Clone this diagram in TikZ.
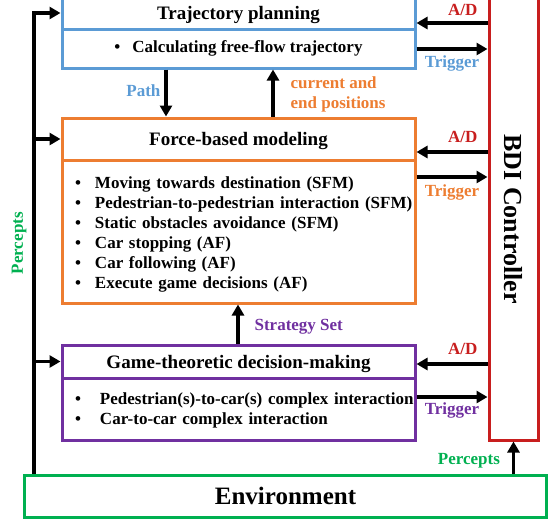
\documentclass[tikz,border=0pt]{standalone}
\usepackage{fontspec}
\setmainfont{Liberation Serif}
\usepackage{tikz}
\usetikzlibrary{positioning, arrows.meta}
\definecolor{tpblue}{RGB}{91,155,213}
\definecolor{fmorange}{RGB}{237,125,49}
\definecolor{gtpurple}{RGB}{112,48,160}
\definecolor{bdired}{RGB}{200,30,30}
\definecolor{envgreen}{RGB}{0,176,80}
\tikzstyle{arrow} = [line width=3.2pt,-{Triangle[length=11pt,width=12pt]}]

\begin{document}
\begin{tikzpicture}[
    x=1pt, y=-1pt,
    font=\fontsize{17}{20}\selectfont\bfseries,
    box/.style={
        draw,
        line width=3pt,
        minimum width=353pt,
        inner sep=0pt
    },
    title/.style={box, text depth=0pt, font=\fontsize{19}{22}\selectfont\bfseries},
    body/.style={box, align=left, text width=327pt},
    lbl/.style={font=\fontsize{17}{20}\selectfont\bfseries, inner sep=2pt}
]
\useasboundingbox (0,0) rectangle (548,520);

% ======================
% Trajectory planning
% ======================
\node[title, draw=tpblue, minimum height=32pt] (traj_title) at (238.5,13) {Trajectory planning};
\node[box, draw=tpblue, minimum height=39pt] (traj_body) at (238.5,48.5)
    {\makebox[18pt][l]{\textbullet}Calculating free-flow trajectory};

% ======================
% Force-based modeling
% ======================
\node[title, draw=fmorange, minimum height=42pt] (force_title) at (238.5,139) {Force-based modeling};
\node[body, draw=fmorange, minimum height=143pt] (force_body) at (238.5,231.5)
    {\begin{tabular}{@{}p{20pt}@{}l@{}}
     \rule{0pt}{19pt}\textbullet & Moving towards destination (SFM)\\
     \textbullet & Pedestrian-to-pedestrian interaction (SFM)\\
     \textbullet & Static obstacles avoidance (SFM)\\
     \textbullet & Car stopping (AF)\\
     \textbullet & Car following (AF)\\
     \textbullet & Execute game decisions (AF)
     \end{tabular}};

% ======================
% Game-theoretic decision-making
% ======================
\node[title, draw=gtpurple, minimum height=33pt] (game_title) at (238.5,361.5) {Game-theoretic decision-making};
\node[body, draw=gtpurple, minimum height=62pt] (game_body) at (238.5,409)
    {\begin{tabular}{@{}p{25pt}@{}l@{}}
     \rule{0pt}{17pt}\textbullet & Pedestrian(s)-to-car(s) complex interaction\\
     \textbullet & Car-to-car complex interaction
     \end{tabular}};

% ======================
% Environment and BDI controller
% ======================
\node[draw=envgreen, line width=3pt, minimum width=522pt, minimum height=42pt,
      font=\fontsize{25}{30}\selectfont\bfseries] (env) at (285.5,496) {Environment};
\node[draw=bdired, line width=3pt, minimum width=49pt, minimum height=442pt,
      label={[rotate=-90, font=\fontsize{26}{30}\selectfont\bfseries]center:BDI Controller}] (bdi) at (513.5,219) {};

% ======================
% Connections between modules
% ======================
\draw[arrow] (traj_body.south -| 166,0) -- node[lbl, left=2pt, pos=0.45, text=tpblue] {Path} (force_title.north -| 166,0);
\draw[arrow] (force_title.north -| 273,0) -- node[lbl, right=14pt, pos=0.48, align=left, text=fmorange] {current and\\end positions} (traj_body.south -| 273,0);
\draw[arrow] (game_title.north -| 238,0) -- node[lbl, right=13pt, pos=0.43, text=gtpurple] {Strategy Set} (force_body.south -| 238,0);

% A/D and Trigger
\draw[arrow] (bdi.west |- 0,23) -- node[lbl, above=4pt, pos=0.35, text=bdired] {A/D} (traj_title.east |- 0,23);
\draw[arrow] (traj_body.east |- 0,49) -- node[lbl, below=3pt, text=tpblue] {Trigger} (bdi.west |- 0,49);
\draw[arrow] (bdi.west |- 0,152) -- node[lbl, above=6pt, pos=0.35, text=bdired] {A/D} (force_title.east |- 0,152);
\draw[arrow] (force_body.east |- 0,177) -- node[lbl, below=4pt, text=fmorange] {Trigger} (bdi.west |- 0,177);
\draw[arrow] (bdi.west |- 0,364) -- node[lbl, above=6pt, pos=0.35, text=bdired] {A/D} (game_title.east |- 0,364);
\draw[arrow] (game_body.east |- 0,397) -- node[lbl, below=2pt, text=gtpurple] {Trigger} (bdi.west |- 0,397);

% Percepts
\coordinate (perc_bot) at (env.north -| 34,0);
\coordinate (perc_top) at (34,13);
\draw[line width=3.2pt] (perc_bot) -- node[lbl, sloped, above=4pt, text=envgreen] {Percepts} (perc_top);
\draw[arrow] (perc_top) ++(-1.6,0) -- (traj_title.west |- perc_top);
\draw[arrow] (perc_bot |- force_title.west) -- (force_title.west);
\draw[arrow] (perc_bot |- game_title.west) -- (game_title.west);
\draw[arrow] (env.north -| bdi.south) -- node[lbl, left=10pt, pos=0.4, text=envgreen] {Percepts} (bdi.south);

\end{tikzpicture}
\end{document}
